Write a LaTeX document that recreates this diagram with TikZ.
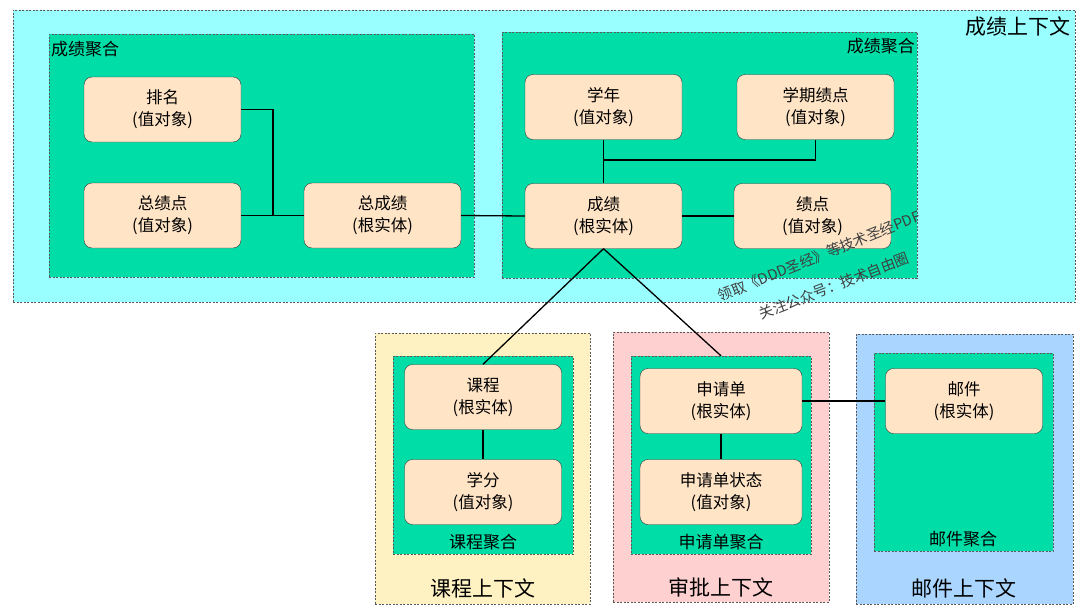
\documentclass[tikz,border=0pt]{standalone}
\usepackage{fontspec}
\setmainfont{Noto Sans CJK SC}
\usetikzlibrary{positioning}

\definecolor{ctxcyan}{HTML}{99FFFF}
\definecolor{ctxyellow}{HTML}{FFF2C2}
\definecolor{ctxpink}{HTML}{FFD0D0}
\definecolor{ctxblue}{HTML}{A9D5FF}
\definecolor{agggreen}{HTML}{00DDA6}
\definecolor{entfill}{HTML}{FFE4C6}
\definecolor{entline}{HTML}{36393D}

\begin{document}
\begin{tikzpicture}[
    x=1pt, y=-1pt,
    ctx/.style={rectangle, draw=black!65, dash pattern=on 2pt off 1.5pt, inner sep=0pt},
    agg/.style={rectangle, draw=black!65, fill=agggreen, dash pattern=on 2pt off 1.5pt, inner sep=0pt},
    entity/.style={rectangle, draw=entline, fill=entfill, rounded corners=8pt, minimum width=157pt, minimum height=65pt, align=center, font=\fontsize{16.5}{22}\selectfont},
    ctxlabel/.style={font=\fontsize{21}{24}\selectfont, inner sep=0pt},
    agglabel/.style={font=\fontsize{17}{20}\selectfont, inner sep=0pt},
    notetext/.style={text=black!75, font=\fontsize{14.5}{16}\selectfont, inner sep=0pt}
]
\useasboundingbox (0,0) rectangle (1080,616);

% contexts
\node[ctx, fill=ctxcyan, minimum width=1062pt, minimum height=292pt] (gradeCtx) at (544,156) {};
\node[ctx, fill=ctxyellow, minimum width=215pt, minimum height=271pt] (courseCtx) at (482.5,468.5) {};
\node[ctx, fill=ctxpink, minimum width=216pt, minimum height=270pt] (approveCtx) at (721,467) {};
\node[ctx, fill=ctxblue, minimum width=217pt, minimum height=270pt] (mailCtx) at (964.5,469) {};

\node[ctxlabel, anchor=north east] (gradeCtxLabel) at (1071,17) {成绩上下文};
\node[ctxlabel] (courseCtxLabel) at (483,588) {课程上下文};
\node[ctxlabel] (approveCtxLabel) at (721,587) {审批上下文};
\node[ctxlabel] (mailCtxLabel) at (964,588) {邮件上下文};

% aggregates
\node[agg, minimum width=425pt, minimum height=243pt] (totalAgg) at (261.5,155.5) {};
\node[agg, minimum width=415pt, minimum height=246pt] (gradeAgg) at (709.5,155) {};
\node[agg, minimum width=180pt, minimum height=198pt] (courseAgg) at (483,455) {};
\node[agg, minimum width=180pt, minimum height=198pt] (applyAgg) at (721,455) {};
\node[agg, minimum width=179pt, minimum height=198pt] (mailAgg) at (963.5,452) {};

\node[agglabel, anchor=north west] (totalAggLabel) at (51,41) {成绩聚合};
\node[agglabel, anchor=north east] (gradeAggLabel) at (915,38) {成绩聚合};
\node[agglabel] (courseAggLabel) at (483,542) {课程聚合};
\node[agglabel] (applyAggLabel) at (721,542) {申请单聚合};
\node[agglabel] (mailAggLabel) at (963,539) {邮件聚合};

% entities and value objects
\node[entity] (rank) at (162.5,109.5) {排名\\(值对象)};
\node[entity] (totalGpa) at (162.5,215.5) {总绩点\\(值对象)};
\node[entity] (total) at (382.5,215.5) {总成绩\\(根实体)};
\node[entity] (year) at (603.5,107) {学年\\(值对象)};
\node[entity] (termGpa) at (815.5,107) {学期绩点\\(值对象)};
\node[entity] (grade) at (603.5,216) {成绩\\(根实体)};
\node[entity] (gpa) at (812.5,216) {绩点\\(值对象)};
\node[entity] (course) at (483,397) {课程\\(根实体)};
\node[entity] (credit) at (483,492) {学分\\(值对象)};
\node[entity, minimum width=162pt] (apply) at (721,401) {申请单\\(根实体)};
\node[entity, minimum width=162pt] (applyState) at (721,492) {申请单状态\\(值对象)};
\node[entity] (mail) at (964,401) {邮件\\(根实体)};

% connectors
\draw[line width=1.3pt] (rank.east) -| (273,215.5);
\draw[line width=1.3pt] (totalGpa.east) -- (total.west);
\draw[line width=1.3pt] (total.east) -- (grade.west);
\draw[line width=1.3pt] (year.south) -- (grade.north);
\draw[line width=1.3pt] (termGpa.south) |- (603.5,160);
\draw[line width=1.3pt] (grade.east) -- (gpa.west);
\draw[line width=1.3pt] (grade.south) -- (course.north);
\draw[line width=1.3pt] (grade.south) -- (applyAgg.north);
\draw[line width=1.3pt] (course.south) -- (credit.north);
\draw[line width=1.3pt] (apply.south) -- (applyState.north);
\draw[line width=1.3pt] (apply.east) -- (mail.west);

% watermark
\node[notetext, rotate=22] (note1) at (819,256) {领取《DDD圣经》等技术圣经PDF};
\node[notetext, rotate=21] (note2) at (834,286) {关注公众号：技术自由圈};

\end{tikzpicture}
\end{document}
